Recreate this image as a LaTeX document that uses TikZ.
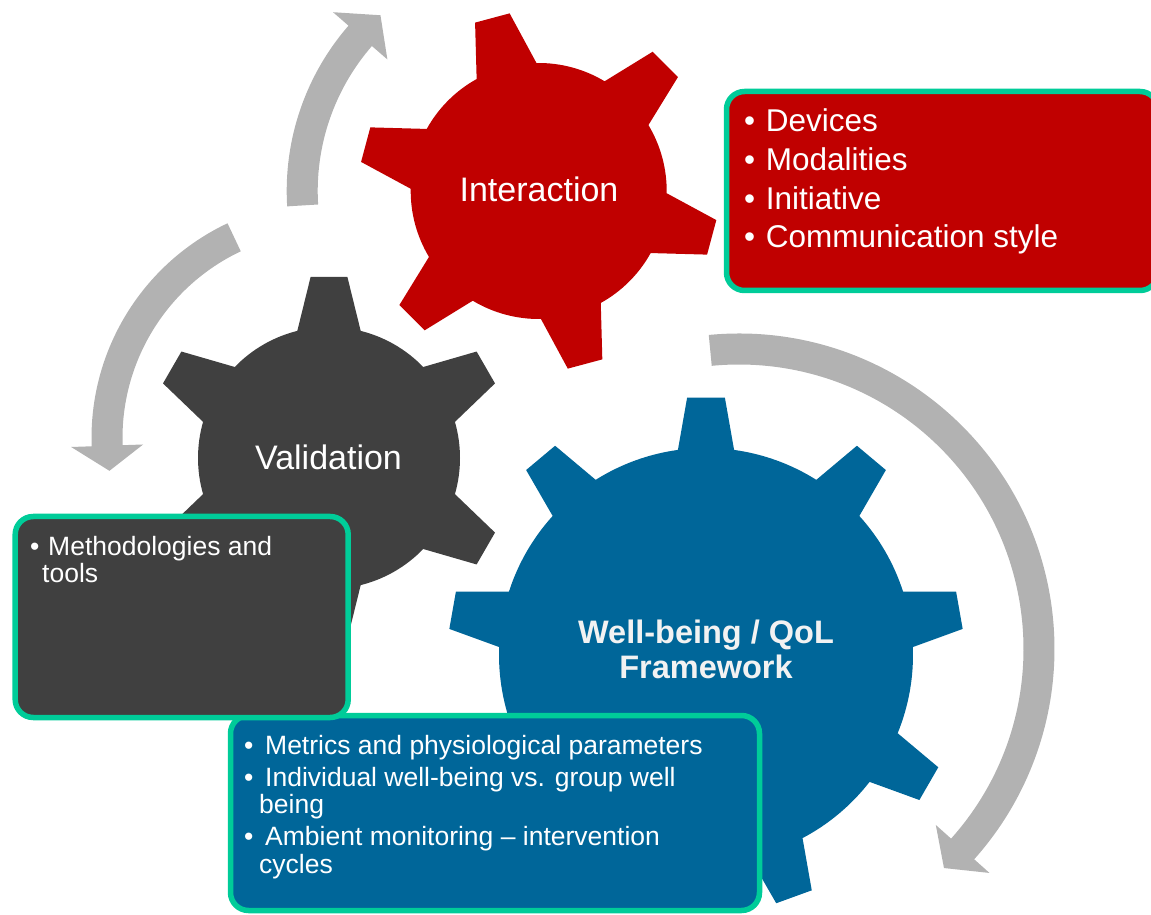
\documentclass[tikz,border=0pt]{standalone}
\usepackage{fontspec}
\setmainfont{Liberation Sans}
\usetikzlibrary{positioning}

\definecolor{gearred}{RGB}{192,0,0}
\definecolor{geargray}{RGB}{64,64,64}
\definecolor{gearblue}{RGB}{0,102,153}
\definecolor{arrowgray}{RGB}{178,178,178}
\definecolor{boxteal}{RGB}{0,204,153}
\definecolor{offwhite}{RGB}{242,242,242}

% centre, colour, teeth, first tooth angle, body radius, tip radius, half angle at base, half angle at tip
\newcommand{\drawgear}[8]{%
  \pgfmathsetmacro{\gstep}{360/#3}%
  \pgfmathtruncatemacro{\glast}{#3-1}%
  \fill[#2, shift={#1}] ({#4+#7}:#5)
    foreach \k in {0,...,\glast} {
      -- ({#4-\k*\gstep+#8}:#6) -- ({#4-\k*\gstep-#8}:#6) -- ({#4-\k*\gstep-#7}:#5)
      arc[start angle={#4-\k*\gstep-#7}, end angle={#4-(\k+1)*\gstep+#7}, radius=#5]
    } -- cycle;
}

% centre, middle radius, start angle, end angle, tip angle
\newcommand{\cyclearrow}[5]{%
  \pgfmathsetmacro{\aout}{#2+15.5}%
  \pgfmathsetmacro{\ain}{#2-15.5}%
  \pgfmathsetmacro{\wout}{#2+36}%
  \pgfmathsetmacro{\win}{#2-36}%
  \fill[arrowgray, shift={#1}] ({#3}:\aout) arc[start angle=#3, end angle=#4, radius=\aout]
    -- ({#4}:\wout) -- ({#5}:#2) -- ({#4}:\win) -- ({#4}:\ain)
    arc[start angle=#4, end angle=#3, radius=\ain] -- cycle;
}

\newcommand{\bul}[1]{\makebox[#1][l]{\textbullet}}

\tikzset{
  gearlabel/.style={text=white, inner sep=0pt, anchor=base, font=\fontsize{34}{40}\selectfont},
  qollabel/.style={gearlabel, text=offwhite, font=\fontsize{32.5}{35}\selectfont\bfseries},
  infobox/.style={draw=boxteal, line width=5.5pt, rounded corners=18pt, inner sep=0pt},
  bigitem/.style={text=white, inner sep=0pt, anchor=base west, font=\fontsize{31.5}{38}\selectfont},
  smallitem/.style={text=white, inner sep=0pt, anchor=base west, font=\fontsize{26.5}{30}\selectfont},
}

\begin{document}
\begin{tikzpicture}[x=1pt, y=1pt]
    \useasboundingbox (0,0) rectangle (1151,914);

    % gears
    \drawgear{(538.7,723)}{gearred}{6}{105}{128}{180}{14}{5.7}
    \drawgear{(329,456)}{geargray}{6}{90}{131}{182}{14}{5.8}
    \drawgear{(706,259)}{gearblue}{9}{90}{207}{258}{7.8}{4.2}

    \node[gearlabel] (interaction) at (539,712) {Interaction};
    \node[gearlabel] (validation) at (328.5,444) {Validation};
    \node[qollabel] (wellbeing) at (706,270.7) {Well-being / QoL};
    \node[qollabel] (framework) at (706,235.7) {Framework};

    % cycle arrows
    \cyclearrow{(538.7,723)}{236.5}{183.5}{139}{132}
    \cyclearrow{(329,476)}{222}{115.3}{182}{188.5}
    \cyclearrow{(739,265)}{300}{95.5}{-41.8}{-46.9}

    % text boxes
    \node[infobox, fill=gearred, minimum width=431.5pt, minimum height=199pt] (intbox) at (942.25,723) {};
    \foreach \txt [count=\i] in {Devices, Modalities, Initiative, Communication style}
        \node[bigitem] (int\i) at (744, {782.3-(\i-1)*38.7}) {\bul{21.6pt}\txt};

    \node[infobox, fill=gearblue, minimum width=529pt, minimum height=195pt] (qolbox) at (495,101) {};
    \foreach \x/\y/\txt [count=\i] in {244/160/\bul{21pt}Metrics and physiological parameters,
                                      244/128/\bul{21pt}Individual well-being vs. group well,
                                      259/101/being,
                                      244/69/\bul{21pt}Ambient monitoring \textendash{} intervention,
                                      259/41/cycles}
        \node[smallitem] (qol\i) at (\x,\y) {\txt};

    \node[infobox, fill=geargray, minimum width=333pt, minimum height=201pt] (valbox) at (181.7,297) {};
    \node[smallitem] (val1) at (30,359) {\bul{18pt}Methodologies and};
    \node[smallitem] (val2) at (42,332) {tools};
\end{tikzpicture}
\end{document}
